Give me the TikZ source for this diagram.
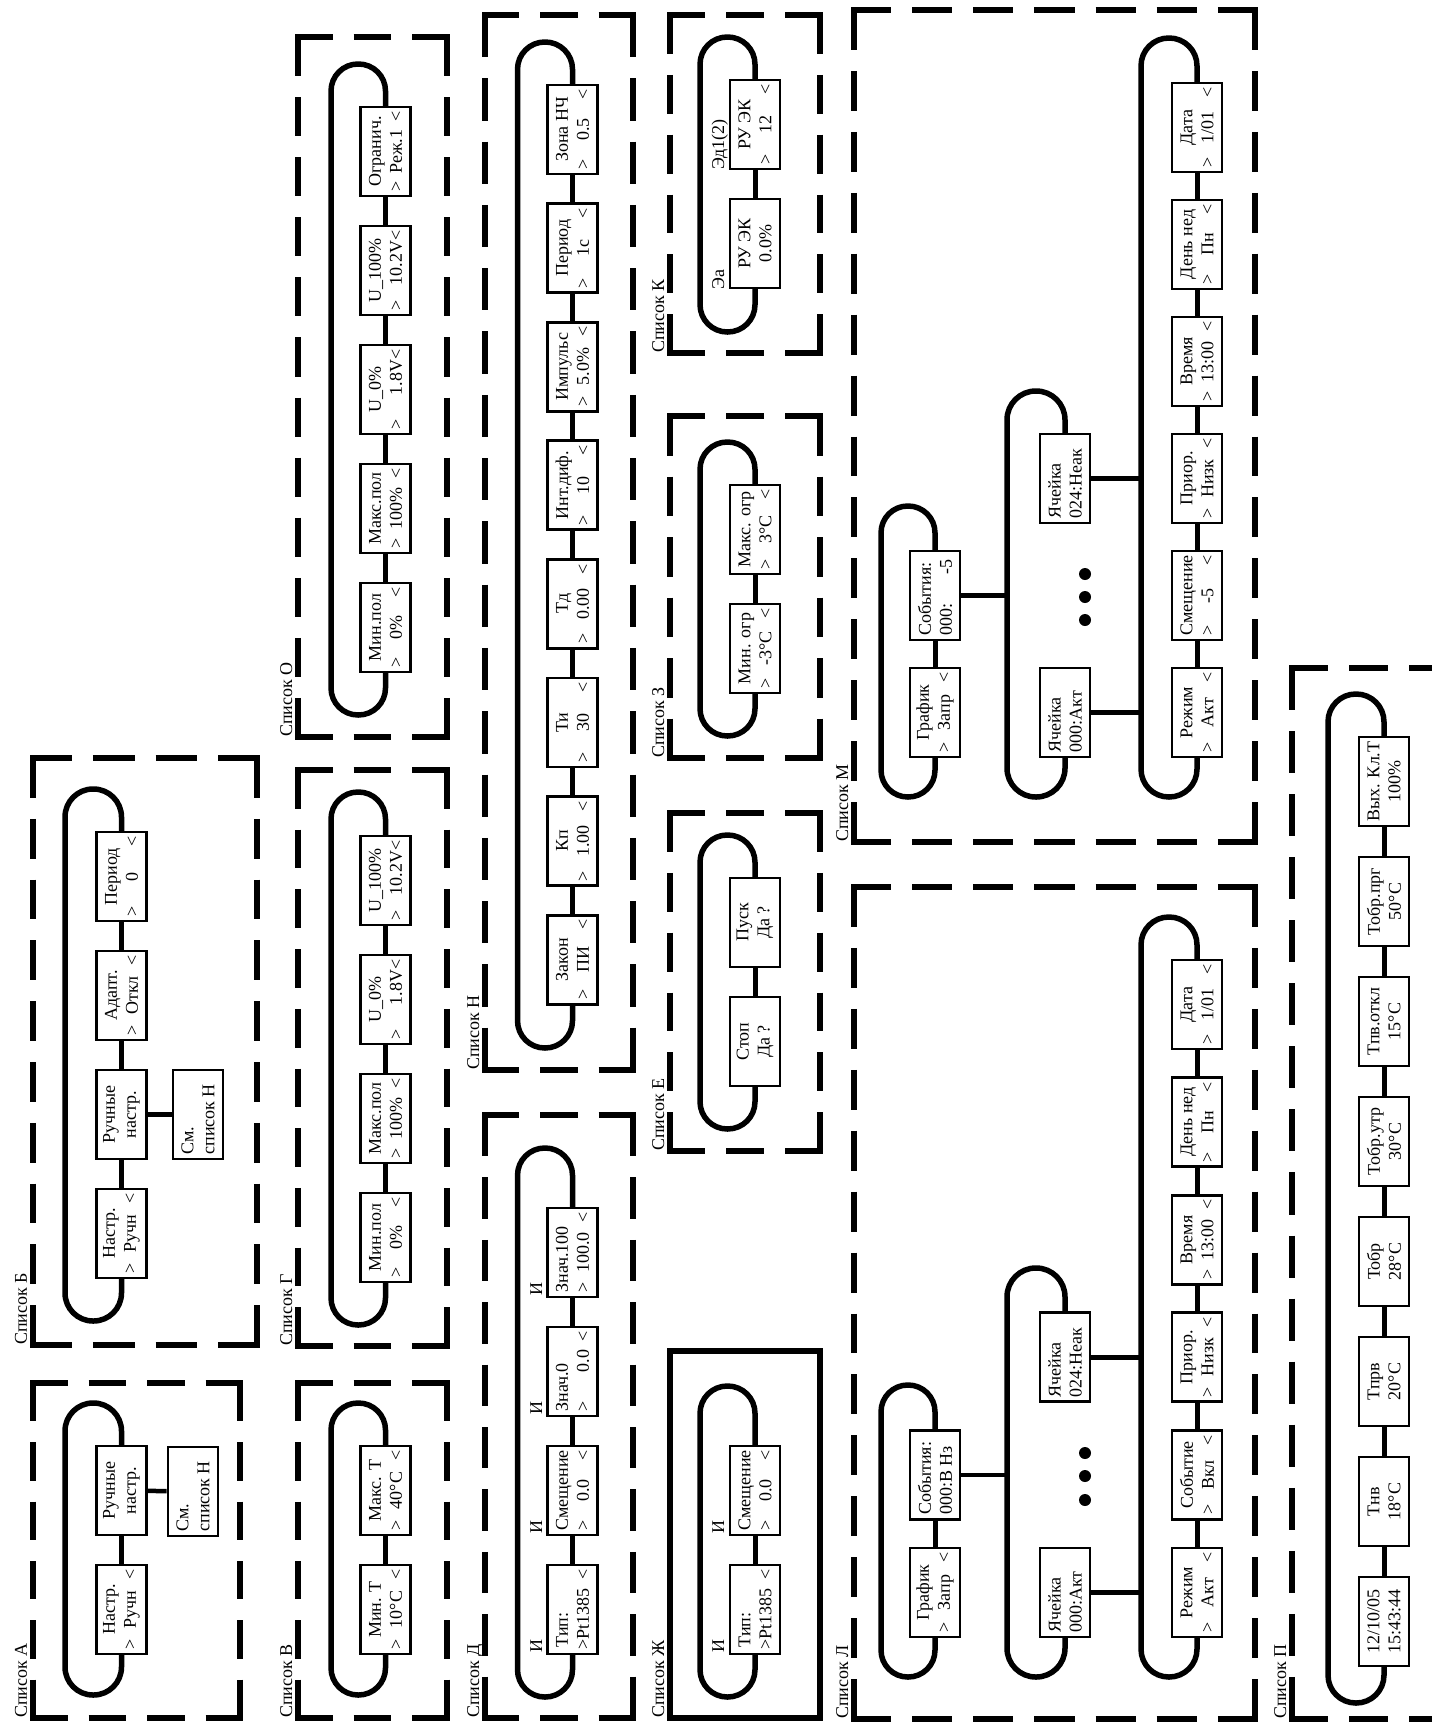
\documentclass[tikz,border=0pt]{standalone}
\usepackage{fontspec}
\setmainfont{Liberation Serif}
\usetikzlibrary{backgrounds}
\pgfdeclarelayer{bgzero}
\pgfsetlayers{bgzero,background,main}
\newcommand\fs{\fontsize{18pt}{21pt}\selectfont}
\newcommand\TT[2]{\vbox{\hsize=80pt\baselineskip=21pt\hbox to\hsize{#1}\hbox to\hsize{#2}}}
\newcommand\cc[1]{\hfil#1\hfil}
\newcommand\ar[1]{>\hfil#1\hfil<}
\newcommand\dside[4]{%
  \pgfmathsetmacro\dlen{veclen((#3)-(#1),(#4)-(#2))}%
  \pgfmathtruncatemacro\dn{max(1,round((\dlen+21)/62))}%
  \pgfmathsetmacro\don{(\dlen-(\dn-1)*21)/\dn}%
  \edef\dcmd{\noexpand\draw[dashln,dash pattern=on \don pt off 21pt]}%
  \dcmd (#1,#2) -- (#3,#4);}
\newcommand\drect[4]{%
  \dside{#1-3}{#2}{#3+3}{#2}%
  \dside{#1-3}{#4}{#3+3}{#4}%
  \dside{#1}{#2}{#1}{#4}%
  \dside{#3}{#2}{#3}{#4}}
\newcommand\track[7]{%
  \draw[track, rounded corners=#7pt] (#1.center) -- (#4,#5) -- (#3,#5) -- (#3,#6) -- (#4,#6) -- (#2.center);}
\tikzset{
  bx/.style={draw, line width=2.8pt, fill=white, inner sep=0pt, minimum width=89pt, minimum height=50pt, rotate=90, font=\fs},
  track/.style={line width=5.5pt},
  conn/.style={line width=5pt},
  xconn/.style={line width=4.5pt},
  dashln/.style={line width=6pt},
  lbl/.style={rotate=90, anchor=base west, inner sep=0pt, font=\fs},
}
\begin{document}
\begin{tikzpicture}[x=1pt,y=-1pt]
\useasboundingbox (0,0) rectangle (1432,1722);
\clip (0,0) rectangle (1432,1722);
\begin{pgfonlayer}{bgzero}\fill[white] (0,0) rectangle (1432,1722);\end{pgfonlayer}

% ---------- Список А
\node[bx] (a1) at (121.5,1490.5) {\TT{\cc{Ручные}}{\cc{настр.}}};
\node[bx] (a2) at (121.5,1609.5) {\TT{\cc{Настр.}}{\ar{Ручн}}};
\node[bx] (a3) at (193,1491.5) {\TT{См.\hfil}{список Н\hfil}};
\drect{33}{1383}{240}{1718}
\node[lbl] (la) at (27,1718) {Список А};

% ---------- Список Б
\node[bx] (b1) at (121.5,876.5) {\TT{\cc{Период}}{\ar{0}}};
\node[bx] (b2) at (121.5,995.5) {\TT{\cc{Адапт.}}{\ar{Откл}}};
\node[bx] (b3) at (121.5,1114.5) {\TT{\cc{Ручные}}{\cc{настр.}}};
\node[bx] (b4) at (121.5,1233.5) {\TT{\cc{Настр.}}{\ar{Ручн}}};
\node[bx] (b5) at (198,1114.5) {\TT{См.\hfil}{список Н\hfil}};
\drect{33}{758}{257}{1345}
\node[lbl] (lb) at (27,1345) {Список Б};

% ---------- Список В
\node[bx] (v1) at (385.5,1490.5) {\TT{\cc{Макс. T}}{\ar{40°C}}};
\node[bx] (v2) at (385.5,1609.5) {\TT{\cc{Мин. T}}{\ar{10°C}}};
\drect{298}{1383}{447}{1718}
\node[lbl] (lv) at (292,1718) {Список В};

% ---------- Список Г
\node[bx] (g1) at (385.5,880.5) {\TT{\cc{U\_100\%}}{>\hfil 10.2V<}};
\node[bx] (g2) at (385.5,999.5) {\TT{\cc{U\_0\%}}{>\hfil 1.8V<}};
\node[bx] (g3) at (385.5,1118.5) {\TT{\cc{Макс.пол}}{\ar{100\%}}};
\node[bx] (g4) at (385.5,1237.5) {\TT{\cc{Мин.пол}}{\ar{0\%}}};
\drect{298}{770}{447}{1346}
\node[lbl] (lg) at (292,1346) {Список Г};

% ---------- Список О
\node[bx] (o1) at (385.5,151.5) {\TT{\cc{Огранич.}}{\ar{Реж.1}}};
\node[bx] (o2) at (385.5,270.5) {\TT{\cc{U\_100\%}}{>\hfil 10.2V<}};
\node[bx] (o3) at (385.5,389.5) {\TT{\cc{U\_0\%}}{>\hfil 1.8V<}};
\node[bx] (o4) at (385.5,508.5) {\TT{\cc{Макс.пол}}{\ar{100\%}}};
\node[bx] (o5) at (385.5,627.5) {\TT{\cc{Мин.пол}}{\ar{0\%}}};
\drect{298}{37}{447}{737}
\node[lbl] (lo) at (292,737) {Список О};

% ---------- Список Н
\node[bx] (n1) at (572.5,129.5) {\TT{\cc{Зона НЧ}}{\ar{0.5}}};
\node[bx] (n2) at (572.5,248.1) {\TT{\cc{Период}}{\ar{1с}}};
\node[bx] (n3) at (572.5,366.7) {\TT{\cc{Импульс}}{\ar{5.0\%}}};
\node[bx] (n4) at (572.5,485.3) {\TT{\cc{Инт.диф.}}{\ar{10}}};
\node[bx] (n5) at (572.5,603.9) {\TT{\cc{Тд}}{\ar{0.00}}};
\node[bx] (n6) at (572.5,722.5) {\TT{\cc{Ти}}{\ar{30}}};
\node[bx] (n7) at (572.5,841.1) {\TT{\cc{Кп}}{\ar{1.00}}};
\node[bx] (n8) at (572.5,959.7) {\TT{\cc{Закон}}{\ar{ПИ}}};
\drect{485}{15}{633}{1070}
\node[lbl] (ln) at (479,1070) {Список Н};

% ---------- Список Д
\node[bx] (d1) at (572.5,1252.5) {\TT{Знач.100\hfil}{>\hfil 100.0\hfil<}};
\node[bx] (d2) at (572.5,1371.5) {\TT{Знач.0\hfil}{>\hfil 0.0\hspace{8pt}<}};
\node[bx] (d3) at (572.5,1490.5) {\TT{\cc{Смещение}}{\ar{0.0}}};
\node[bx] (d4) at (572.5,1609.5) {\TT{\hspace{2pt}Тип:\hfil}{>Pt1385\hfil<}};
\drect{485}{1115}{633}{1718}
\node[lbl] (ld) at (479,1718) {Список Д};
\node[lbl] (di1) at (542,1296) {И};
\node[lbl] (di2) at (542,1415) {И};
\node[lbl] (di3) at (542,1534) {И};
\node[lbl] (di4) at (542,1653) {И};

% ---------- Список Ж
\node[bx] (j1) at (755,1490.5) {\TT{\cc{Смещение}}{\ar{0.0}}};
\node[bx] (j2) at (755,1609.5) {\TT{\hspace{2pt}Тип:\hfil}{>Pt1385\hfil<}};
\draw[dashln] (670,1351) rectangle (820,1718);
\node[lbl] (lj) at (664,1718) {Список Ж};
\node[lbl] (ji1) at (724,1534) {И};
\node[lbl] (ji2) at (724,1653) {И};

% ---------- Список К
\node[bx] (k1) at (755,124.5) {\TT{\cc{РУ ЭК}}{\ar{12}}};
\node[bx] (k2) at (755,243.5) {\TT{\cc{РУ ЭК}}{\cc{0.0\%}}};
\drect{670}{15}{820}{353}
\node[lbl] (lk) at (664,353) {Список К};
\node[lbl] (ke1) at (724,170) {Эд1(2)};
\node[lbl] (ke2) at (724,290) {Эа};

% ---------- Список З
\node[bx] (z1) at (755,529.5) {\TT{\cc{Макс. огр}}{\ar{3°C}}};
\node[bx] (z2) at (755,648.5) {\TT{\cc{Мин. огр}}{\ar{-3°C}}};
\drect{670}{416}{820}{758}
\node[lbl] (lz) at (664,758) {Список З};

% ---------- Список Е
\node[bx] (e1) at (755,922.5) {\TT{\cc{Пуск}}{\cc{Да ?}}};
\node[bx] (e2) at (755,1041.5) {\TT{\cc{Стоп}}{\cc{Да ?}}};
\drect{670}{813}{820}{1151}
\node[lbl] (le) at (664,1151) {Список Е};

% ---------- Список М
\node[bx] (m31) at (1197,127.5) {\TT{\cc{Дата}}{\ar{1/01}}};
\node[bx] (m32) at (1197,244.5) {\TT{\cc{День нед}}{\ar{Пн}}};
\node[bx] (m33) at (1197,361.5) {\TT{\cc{Время}}{\ar{13:00}}};
\node[bx] (m34) at (1197,478.5) {\TT{\cc{Приор.}}{\ar{Низк}}};
\node[bx] (m35) at (1197,595.5) {\TT{\cc{Смещение}}{\ar{-5}}};
\node[bx] (m36) at (1197,712.5) {\TT{\cc{Режим}}{\ar{Акт}}};
\node[bx] (m21) at (1065,478.5) {\TT{Ячейка\hfil}{024:Неак\hfil}};
\node[bx] (m22) at (1065,712.5) {\TT{Ячейка\hfil}{000:Акт\hfil}};
\node[bx] (m11) at (935,595.5) {\TT{События:\hfil}{000:\hfil -5\hspace{4pt}}};
\node[bx] (m12) at (935,712.5) {\TT{\cc{График}}{\ar{Запр}}};
\coordinate (m2l) at (1007,0);
\coordinate (m3l) at (1141,0);
\fill (1085,574) circle (6pt) (1085,597) circle (6pt) (1085,620) circle (6pt);
\drect{854}{10}{1255}{842}
\node[lbl] (lm) at (848,842) {Список М};

% ---------- Список Л
\node[bx] (l31) at (1197,1004.5) {\TT{\cc{Дата}}{\ar{1/01}}};
\node[bx] (l32) at (1197,1122.1) {\TT{\cc{День нед}}{\ar{Пн}}};
\node[bx] (l33) at (1197,1239.7) {\TT{\cc{Время}}{\ar{13:00}}};
\node[bx] (l34) at (1197,1357.3) {\TT{\cc{Приор.}}{\ar{Низк}}};
\node[bx] (l35) at (1197,1474.9) {\TT{\cc{Событие}}{\ar{Вкл}}};
\node[bx] (l36) at (1197,1592.5) {\TT{\cc{Режим}}{\ar{Акт}}};
\node[bx] (l21) at (1065,1357.3) {\TT{Ячейка\hfil}{024:Неак\hfil}};
\node[bx] (l22) at (1065,1592.5) {\TT{Ячейка\hfil}{000:Акт\hfil}};
\node[bx] (l11) at (935,1474.9) {\TT{События:\hfil}{000:В Нз\hfil}};
\node[bx] (l12) at (935,1592.5) {\TT{\cc{График}}{\ar{Запр}}};
\coordinate (l2l) at (1007,0);
\coordinate (l3l) at (1141,0);
\fill (1085,1453) circle (6pt) (1085,1476) circle (6pt) (1085,1500) circle (6pt);
\drect{854}{887}{1255}{1719}
\node[lbl] (ll) at (848,1719) {Список Л};

% ---------- Список П
\node[bx] (p1) at (1384,781.5) {\TT{\cc{Вых. Кл.Т}}{\cc{100\%}}};
\node[bx] (p2) at (1384,901.5) {\TT{\cc{Тобр.прг}}{\cc{50°C}}};
\node[bx] (p3) at (1384,1021.5) {\TT{\cc{Тпв.откл}}{\cc{15°C}}};
\node[bx] (p4) at (1384,1141.5) {\TT{\cc{Тобр.утр}}{\cc{30°C}}};
\node[bx] (p5) at (1384,1261.5) {\TT{\cc{Тобр}}{\cc{28°C}}};
\node[bx] (p6) at (1384,1381.5) {\TT{\cc{Тпрв}}{\cc{20°C}}};
\node[bx] (p7) at (1384,1501.5) {\TT{\cc{Тнв}}{\cc{18°C}}};
\node[bx] (p8) at (1384,1621.5) {\TT{\cc{12/10/05}}{\cc{15:43:44}}};
\drect{1292}{668}{1445}{1719}
\node[lbl] (lp) at (1286,1719) {Список П};

% ---------- loops and connectors
\begin{pgfonlayer}{background}
\track{a1}{a2}{65}{121.5}{1403}{1695}{28}
\track{b1}{b4}{65}{121.5}{789}{1321}{28}
\track{v1}{v2}{331}{385.5}{1403}{1695}{27}
\track{g1}{g4}{331}{385.5}{792}{1325}{27}
\track{o1}{o5}{331}{385.5}{64}{715}{27}
\track{n1}{n8}{517.5}{572.5}{42}{1048}{27.3}
\track{d1}{d4}{517.5}{572.5}{1148}{1697}{27.3}
\track{j1}{j2}{700}{755}{1386}{1697}{27.3}
\track{k1}{k2}{700}{755}{37}{332}{27.3}
\track{z1}{z2}{700}{755}{442}{736}{27.3}
\track{e1}{e2}{700}{755}{835}{1129}{27.3}
\track{m31}{m36}{1141}{1197}{38}{797}{27.8}
\track{m21}{m22}{1007}{1065}{391}{797}{28.8}
\track{m11}{m12}{881}{935}{506}{797}{26.8}
\track{l31}{l36}{1141}{1197}{917}{1677}{27.8}
\track{l21}{l22}{1007}{1065}{1268}{1677}{28.8}
\track{l11}{l12}{881}{935}{1385}{1677}{26.8}
\track{p1}{p8}{1328}{1384}{694}{1703}{27.8}
\foreach \u/\w in {a1/a2,b1/b2,b2/b3,b3/b4,v1/v2,g1/g2,g2/g3,g3/g4,
  o1/o2,o2/o3,o3/o4,o4/o5,n1/n2,n2/n3,n3/n4,n4/n5,n5/n6,n6/n7,n7/n8,
  d1/d2,d2/d3,d3/d4,j1/j2,k1/k2,z1/z2,e1/e2,
  m31/m32,m32/m33,m33/m34,m34/m35,m35/m36,m11/m12,
  l31/l32,l32/l33,l33/l34,l34/l35,l35/l36,l11/l12,
  p1/p2,p2/p3,p3/p4,p4/p5,p5/p6,p6/p7,p7/p8}
  {\draw[conn] (\u) -- (\w);}
\draw[xconn] (a1) -- (a3);
\draw[xconn] (b3) -- (b5);
\draw[xconn] (m11) -- (m11 -| m2l);
\draw[xconn] (m21) -- (m21 -| m3l);
\draw[xconn] (m22) -- (m22 -| m3l);
\draw[xconn] (l11) -- (l11 -| l2l);
\draw[xconn] (l21) -- (l21 -| l3l);
\draw[xconn] (l22) -- (l22 -| l3l);
\end{pgfonlayer}
\end{tikzpicture}
\end{document}
